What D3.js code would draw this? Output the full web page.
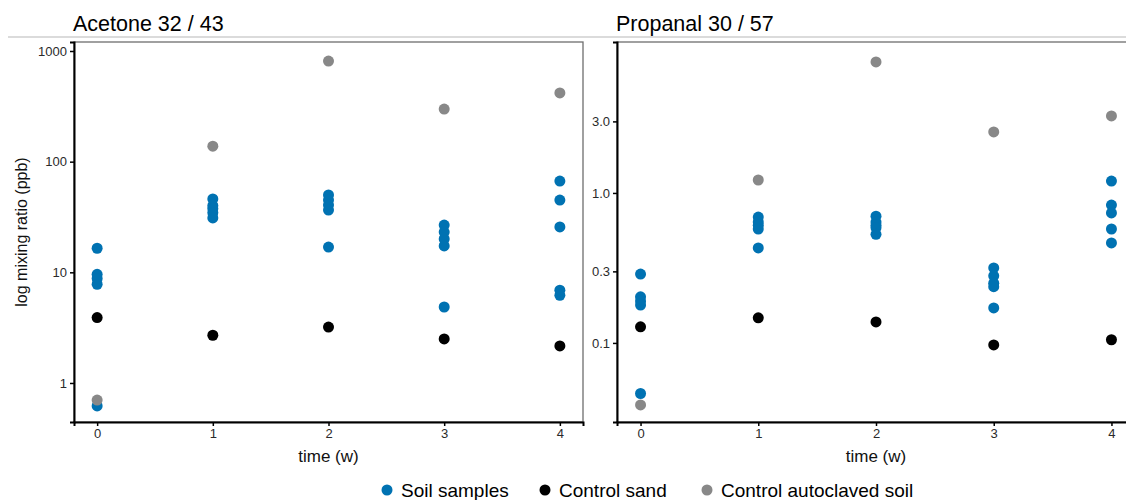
<!DOCTYPE html>
<html>
<head>
<meta charset="utf-8">
<script src="https://cdn.jsdelivr.net/npm/d3@7"></script>
<style>
  html, body { margin: 0; padding: 0; background: #fff; }
  svg { display: block; font-family: "Liberation Sans", Arial, sans-serif; }
</style>
</head>
<body>
<svg id="chart" width="1126" height="500"></svg>
<script>
// ---- data ----
const times = [0, 1, 2, 3, 4];
const seriesNames = ["Soil samples", "Control sand", "Control autoclaved soil"];
const seriesColors = ["#0072B2", "#000000", "#888888"];

// Acetone 32 / 43 (ppb)
const acetoneSoil = [
  [16.5, 9.6, 8.8, 7.8, 0.62],
  [46, 40, 37.5, 34.5, 31],
  [50, 45, 40.5, 36.5, 16.9],
  [26.7, 23.1, 20, 17.3, 4.86],
  [66.8, 45, 25.7, 6.9, 6.2]
];
const acetoneSand = [3.9, 2.7, 3.2, 2.5, 2.16];
const acetoneAuto = [0.70, 138, 811, 299, 418];
const acetoneTicks = [1, 10, 100, 1000];
const acetoneTickLabels = ["1", "10", "100", "1000"];

// Propanal 30 / 57 (ppb)
const propanalSoil = [
  [0.288, 0.203, 0.19, 0.179, 0.046],
  [0.69, 0.641, 0.61, 0.575, 0.43],
  [0.70, 0.64, 0.61, 0.585, 0.53],
  [0.316, 0.28, 0.25, 0.237, 0.171],
  [1.2, 0.83, 0.736, 0.575, 0.464]
];
const propanalSand = [0.128, 0.147, 0.138, 0.097, 0.105];
const propanalAuto = [0.0386, 1.22, 7.47, 2.55, 3.26];
const propanalTicks = [0.1, 0.3, 1.0, 3.0];
const propanalTickLabels = ["0.1", "0.3", "1.0", "3.0"];

const titles = ["Acetone 32 / 43", "Propanal 30 / 57"];
const yLabel = "log mixing ratio (ppb)";
const xLabel = "time (w)";

// ---- layout ----
const svg = d3.select("#chart");
const plotTop = 42, plotBottom = 422;

// separator line under titles
svg.append("line").attr("x1", 8).attr("x2", 1126).attr("y1", 37).attr("y2", 37)
  .attr("stroke", "#cfcfcf").attr("stroke-width", 1.5);

const panels = [
  { title: titles[0], left: 74, right: 583, yDomain: [0.444, 1206],
    soil: acetoneSoil, sand: acetoneSand, auto: acetoneAuto,
    ticks: acetoneTicks, tickLabels: acetoneTickLabels, showYLabel: true },
  { title: titles[1], left: 617, right: 1135, yDomain: [0.0297, 10.15],
    soil: propanalSoil, sand: propanalSand, auto: propanalAuto,
    ticks: propanalTicks, tickLabels: propanalTickLabels, showYLabel: false }
];

panels.forEach(p => {
  const x = d3.scaleLinear().domain([-0.2, 4.2]).range([p.left, p.right]);
  const y = d3.scaleLog().domain(p.yDomain).range([plotBottom, plotTop]);
  const g = svg.append("g");

  // frame (top & right)
  g.append("rect").attr("x", p.left).attr("y", plotTop)
    .attr("width", p.right - p.left).attr("height", plotBottom - plotTop)
    .attr("fill", "none").attr("stroke", "#6e6e6e").attr("stroke-width", 1.3);

  // title
  g.append("text").attr("x", p.left - 1).attr("y", 31)
    .attr("font-size", 21.5).attr("fill", "#000").text(p.title);

  // points
  const pts = [];
  times.forEach((t, i) => {
    p.soil[i].forEach(v => pts.push({ t, v, c: seriesColors[0] }));
  });
  times.forEach((t, i) => pts.push({ t, v: p.sand[i], c: seriesColors[1] }));
  times.forEach((t, i) => pts.push({ t, v: p.auto[i], c: seriesColors[2] }));
  g.selectAll("circle.pt").data(pts).enter().append("circle")
    .attr("class", "pt")
    .attr("cx", d => x(d.t)).attr("cy", d => y(d.v)).attr("r", 5.5)
    .attr("fill", d => d.c);

  // y axis
  const ya = d3.axisLeft(y).tickValues(p.ticks)
    .tickFormat((d, i) => p.tickLabels[i]).tickSize(4).tickPadding(3);
  const yg = g.append("g").attr("transform", `translate(${p.left},0)`).call(ya);
  yg.select(".domain").attr("stroke", "#000").attr("stroke-width", 2);
  yg.selectAll(".tick line").attr("stroke", "#000").attr("stroke-width", 1.5);
  yg.selectAll(".tick text").attr("font-size", 13).attr("fill", "#2a2a2a")
    .attr("font-family", "Liberation Sans, Arial, sans-serif");

  // x axis
  const xa = d3.axisBottom(x).tickValues(times).tickFormat(d3.format("d"))
    .tickSize(4).tickPadding(3);
  const xg = g.append("g").attr("transform", `translate(0,${plotBottom})`).call(xa);
  xg.select(".domain").attr("stroke", "#000").attr("stroke-width", 2);
  xg.selectAll(".tick line").attr("stroke", "#000").attr("stroke-width", 1.5);
  xg.selectAll(".tick text").attr("font-size", 13).attr("fill", "#2a2a2a")
    .attr("font-family", "Liberation Sans, Arial, sans-serif");

  // x label
  g.append("text").attr("x", (x(0) + x(4)) / 2).attr("y", 462)
    .attr("text-anchor", "middle").attr("font-size", 17).attr("fill", "#111")
    .text(xLabel);

  if (p.showYLabel) {
    g.append("text").attr("transform", `translate(27,${(plotTop + plotBottom) / 2}) rotate(-90)`)
      .attr("text-anchor", "middle").attr("font-size", 16).attr("fill", "#111")
      .text(yLabel);
  }
});

// legend
const legendX = [387, 545, 707];
const lg = svg.append("g");
seriesNames.forEach((n, i) => {
  lg.append("circle").attr("cx", legendX[i]).attr("cy", 490).attr("r", 5.5)
    .attr("fill", seriesColors[i]);
  lg.append("text").attr("x", legendX[i] + 14).attr("y", 497)
    .attr("font-size", 19).attr("fill", "#000").text(n);
});
</script>
</body>
</html>
